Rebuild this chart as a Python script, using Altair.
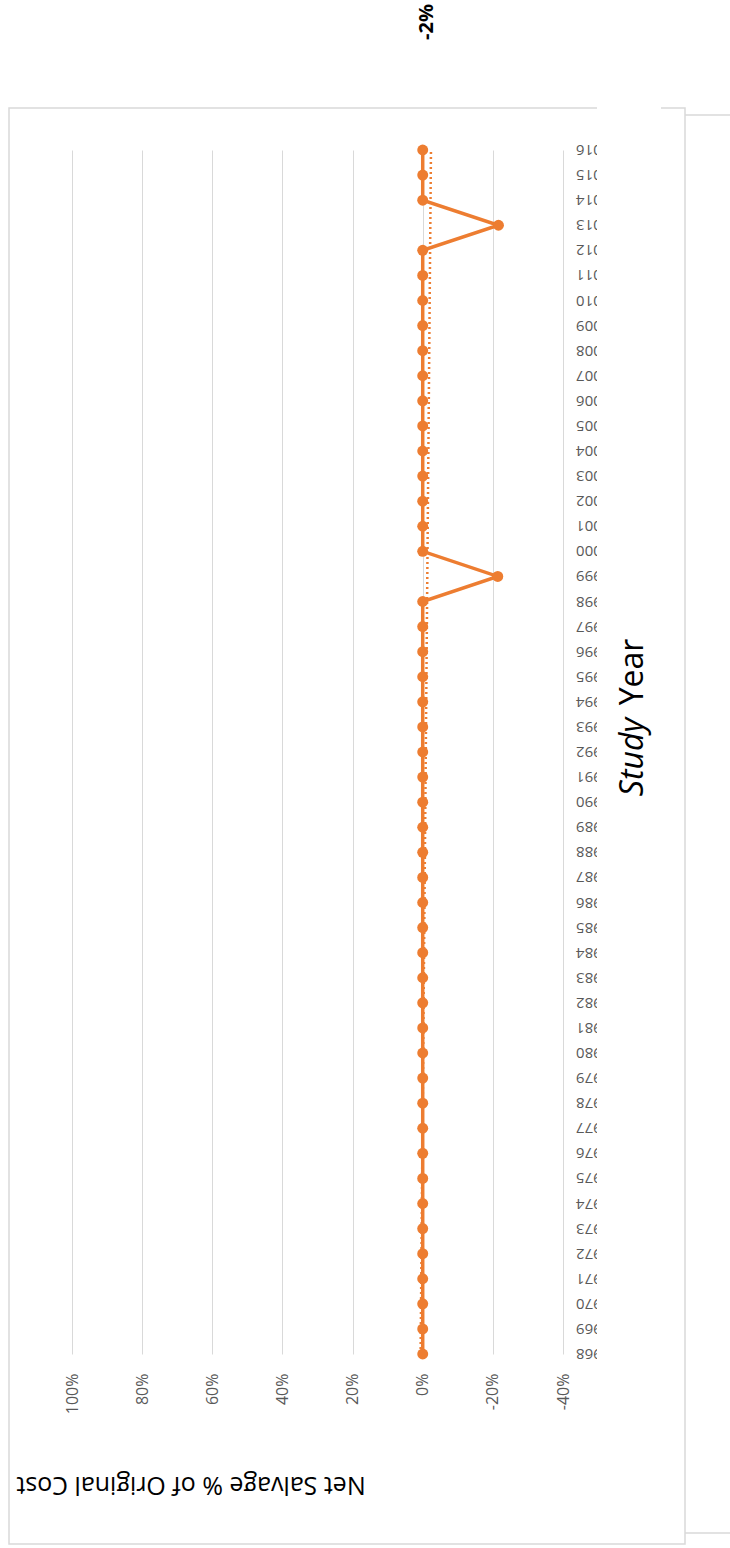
import altair as alt
import pandas as pd

# Study years and net salvage (% of original cost)
years = list(range(1968, 2017))
net_salvage = [0.0] * len(years)
net_salvage[years.index(1999)] = -21.4
net_salvage[years.index(2013)] = -21.6

value_ticks = [-40, -20, 0, 20, 40, 60, 80, 100]
trend_label = ["-2%"]
value_title = ["Net Salvage % of Original Cost"]
year_title_parts = ["Study", "Year"]

ORANGE = "#ED7D31"
GRID = "#D9D9D9"
LABEL = "#595959"
FONT = "Open Sans"

PLOT_W = 491
PLOT_H = 1204

df = pd.DataFrame({"year": years, "value": net_salvage})

x_enc = alt.X(
    "value:Q",
    scale=alt.Scale(domain=[-40, 100], reverse=True, nice=False, zero=False),
    axis=alt.Axis(
        values=value_ticks,
        labelExpr="datum.value + '%'",
        labelAngle=270,
        labelAlign="right",
        labelBaseline="middle",
        labelPadding=19,
        labelFlush=False,
        labelFontSize=16,
        labelFont=FONT,
        labelColor=LABEL,
        ticks=False,
        domain=False,
        grid=True,
        gridColor=GRID,
        gridWidth=1,
        title=None,
        zindex=0,
    ),
)
y_scale = alt.Scale(domain=[1968, 2016], nice=False, zero=False)
y_enc = alt.Y("year:Q", scale=y_scale, axis=None)

series = alt.Chart(df).mark_line(
    color=ORANGE, strokeWidth=3.5,
    point=alt.OverlayMarkDef(color=ORANGE, size=120, filled=True, opacity=1),
).encode(x=x_enc, y=y_enc, order="year:Q")

trend = alt.Chart(df).transform_regression(
    "year", "value"
).mark_line(color=ORANGE, strokeWidth=2.5, strokeDash=[2, 3]).encode(
    x="value:Q", y=alt.Y("year:Q", axis=None)
)

# year labels along the category side, upside down
year_labels = alt.Chart(df).mark_text(
    angle=180, align="right", baseline="middle", fontSize=15,
    font=FONT, color=LABEL,
).encode(
    x=alt.value(504),
    y=alt.Y("year:Q", axis=None),
    text=alt.Text("year:Q", format="d"),
)

one = pd.DataFrame({"k": [0]})

frame = alt.Chart(one).mark_rect(filled=False, stroke=GRID, strokeWidth=1.5).encode(
    x=alt.value(-63), x2=alt.value(613), y=alt.value(-42), y2=alt.value(1394)
)

# white band that trims the year labels
mask = alt.Chart(one).mark_rect(color="white").encode(
    x=alt.value(525), x2=alt.value(589), y=alt.value(-50), y2=alt.value(1222)
)

edge_top = alt.Chart(one).mark_rule(color=GRID, strokeWidth=1.5).encode(
    x=alt.value(613), x2=alt.value(658), y=alt.value(-35)
)
edge_bottom = alt.Chart(one).mark_rule(color=GRID, strokeWidth=1.5).encode(
    x=alt.value(613), x2=alt.value(658), y=alt.value(1383)
)

trend_text = alt.Chart(pd.DataFrame({"t": trend_label})).mark_text(
    angle=270, align="center", baseline="middle", fontSize=20,
    fontWeight="bold", font=FONT, color="black",
).encode(text="t:N", x=alt.value(355), y=alt.value(-128))

value_title_text = alt.Chart(pd.DataFrame({"t": value_title})).mark_text(
    angle=180, align="center", baseline="middle", fontSize=25,
    font=FONT, color="black",
).encode(text="t:N", x=alt.value(119), y=alt.value(1335))

study_text = alt.Chart(pd.DataFrame({"t": year_title_parts[:1]})).mark_text(
    angle=270, align="center", baseline="middle", fontSize=32,
    fontStyle="italic", font=FONT, color="black",
).encode(text="t:N", x=alt.value(561), y=alt.value(607))

year_text = alt.Chart(pd.DataFrame({"t": year_title_parts[1:]})).mark_text(
    angle=270, align="center", baseline="middle", fontSize=32,
    font=FONT, color="black",
).encode(text="t:N", x=alt.value(561), y=alt.value(522))

chart = alt.layer(
    frame, trend, series, year_labels, mask, edge_top, edge_bottom,
    trend_text, value_title_text, study_text, year_text,
).properties(
    width=PLOT_W,
    height=PLOT_H,
    autosize=alt.AutoSizeParams(type="none"),
    padding={"left": 72, "top": 150, "right": 167, "bottom": 194},
    background="white",
).configure_view(strokeWidth=0)

chart.save("out.html", embed_options={"renderer": "svg", "actions": False})
